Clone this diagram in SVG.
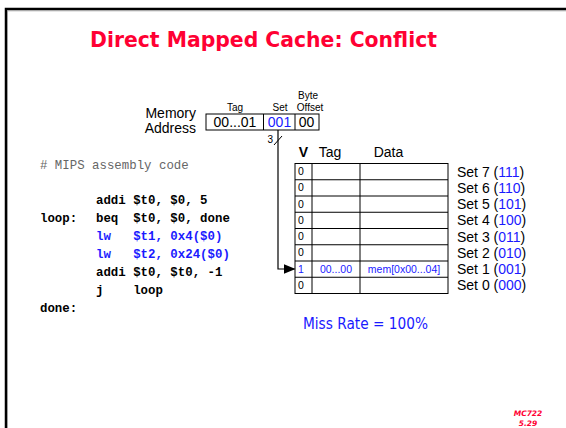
<svg xmlns="http://www.w3.org/2000/svg" width="566" height="428" viewBox="0 0 566 428">
  <style>
    .sans { font-family: "Liberation Sans", Arial, sans-serif; }
    .comic { font-family: "Comic Sans MS", "DejaVu Sans", sans-serif; }
    .mono { font-family: "Liberation Mono", "Courier New", monospace; font-size: 12.4px; font-weight: bold; white-space: pre; }
    .note { font-weight: normal; fill: #666; }
    .blue { fill: #1a1aff; }
    .cell { fill: none; stroke: #000; stroke-width: 1; }
    .val { font-size: 10.5px; }
    .lbl { font-size: 14px; }
    .hdr { font-size: 10px; }
  </style>
  <defs>
    <marker id="arrow" markerWidth="12" markerHeight="10" refX="11" refY="5" orient="auto" markerUnits="userSpaceOnUse">
      <path d="M0,0 L12,5 L0,10 Z" fill="#000"/>
    </marker>
  </defs>

  <rect width="566" height="428" fill="#fff"/>
  <!-- slide frame -->
  <path d="M6,428 V9 H566" fill="none" stroke="#000" stroke-width="2.5"/>
  <path d="M7.5,428 V10.8 H566" fill="none" stroke="#999" stroke-width="0.8"/>

  <!-- title -->
  <text class="comic" x="90" y="47" font-size="22" font-weight="bold" fill="#ff0033" textLength="347" lengthAdjust="spacingAndGlyphs">Direct Mapped Cache: Conflict</text>

  <!-- memory address -->
  <g id="address">
    <text class="sans lbl" x="196" y="118" text-anchor="end">Memory</text>
    <text class="sans lbl" x="196" y="133" text-anchor="end">Address</text>
    <text class="sans hdr" x="235" y="111" text-anchor="middle">Tag</text>
    <text class="sans hdr" x="280" y="111" text-anchor="middle">Set</text>
    <text class="sans hdr" x="308" y="99" text-anchor="middle">Byte</text>
    <text class="sans hdr" x="310" y="111" text-anchor="middle">Offset</text>
    <rect class="cell" x="206" y="114" width="113" height="16"/>
    <line class="cell" x1="263.5" y1="114" x2="263.5" y2="130"/>
    <line class="cell" x1="295" y1="114" x2="295" y2="130"/>
    <text class="sans lbl" x="235" y="127" text-anchor="middle">00...01</text>
    <text class="sans lbl blue" x="279.5" y="127" text-anchor="middle">001</text>
    <text class="sans lbl" x="306.5" y="127" text-anchor="middle">00</text>
  </g>

  <!-- set index bus to the cache -->
  <g id="connectors">
    <path d="M278,130 V269 H294.5" fill="none" stroke="#000" stroke-width="1.2" marker-end="url(#arrow)"/>
    <line x1="274" y1="145" x2="282" y2="136" stroke="#000" stroke-width="1"/>
    <text class="sans" x="273" y="143" font-size="10" text-anchor="end">3</text>
  </g>

  <!-- assembly listing -->
  <g id="code">
    <text class="mono note" x="40" y="169"># MIPS assembly code</text>
    <text class="mono" x="96" y="204">addi $t0, $0, 5</text>
    <text class="mono" x="40" y="222">loop:</text>
    <text class="mono" x="96" y="222">beq  $t0, $0, done</text>
    <text class="mono blue" x="96" y="240">lw   $t1, 0x4($0)</text>
    <text class="mono blue" x="96" y="258">lw   $t2, 0x24($0)</text>
    <text class="mono" x="96" y="276">addi $t0, $t0, -1</text>
    <text class="mono" x="96" y="294">j    loop</text>
    <text class="mono" x="40" y="312">done:</text>
  </g>

  <!-- cache array -->
  <g id="cache">
    <text class="sans lbl" x="303.5" y="157" text-anchor="middle" font-weight="bold">V</text>
    <text class="sans lbl" x="330" y="157" text-anchor="middle">Tag</text>
    <text class="sans lbl" x="388.5" y="157" text-anchor="middle">Data</text>
    <rect class="cell" x="295" y="163.5" width="153" height="130"/>
    <g class="cell">
      <line x1="312" y1="163.5" x2="312" y2="293.5"/>
      <line x1="360" y1="163.5" x2="360" y2="293.5"/>
      <line x1="295" y1="179.75" x2="448" y2="179.75"/>
      <line x1="295" y1="196" x2="448" y2="196"/>
      <line x1="295" y1="212.25" x2="448" y2="212.25"/>
      <line x1="295" y1="228.5" x2="448" y2="228.5"/>
      <line x1="295" y1="244.75" x2="448" y2="244.75"/>
      <line x1="295" y1="261" x2="448" y2="261"/>
      <line x1="295" y1="277.25" x2="448" y2="277.25"/>
    </g>
    <g class="sans val">
      <text x="298" y="175">0</text>
      <text x="298" y="191.25">0</text>
      <text x="298" y="207.5">0</text>
      <text x="298" y="223.75">0</text>
      <text x="298" y="240">0</text>
      <text x="298" y="256.25">0</text>
      <text x="298" y="272.5" class="blue">1</text>
      <text x="298" y="288.75">0</text>
      <text x="336" y="272.5" class="blue" text-anchor="middle">00...00</text>
      <text x="404" y="272.5" class="blue" text-anchor="middle">mem[0x00...04]</text>
    </g>
  </g>

  <!-- set labels -->
  <g id="sets" class="sans lbl">
    <text x="457" y="176.6">Set 7 (<tspan class="blue">111</tspan>)</text>
    <text x="457" y="192.9">Set 6 (<tspan class="blue">110</tspan>)</text>
    <text x="457" y="209.1">Set 5 (<tspan class="blue">101</tspan>)</text>
    <text x="457" y="225.4">Set 4 (<tspan class="blue">100</tspan>)</text>
    <text x="457" y="241.6">Set 3 (<tspan class="blue">011</tspan>)</text>
    <text x="457" y="257.9">Set 2 (<tspan class="blue">010</tspan>)</text>
    <text x="457" y="274.1">Set 1 (<tspan class="blue">001</tspan>)</text>
    <text x="457" y="290.4">Set 0 (<tspan class="blue">000</tspan>)</text>
  </g>

  <text class="comic blue" x="303" y="329" font-size="15" textLength="125" lengthAdjust="spacingAndGlyphs">Miss Rate = 100%</text>

  <!-- slide number -->
  <g font-family="'Comic Sans MS', 'DejaVu Sans', sans-serif" font-size="7.5" font-weight="bold" font-style="italic" fill="#ff0033" text-anchor="middle">
    <text x="528" y="416">MC722</text>
    <text x="528" y="426">5.29</text>
  </g>
</svg>
